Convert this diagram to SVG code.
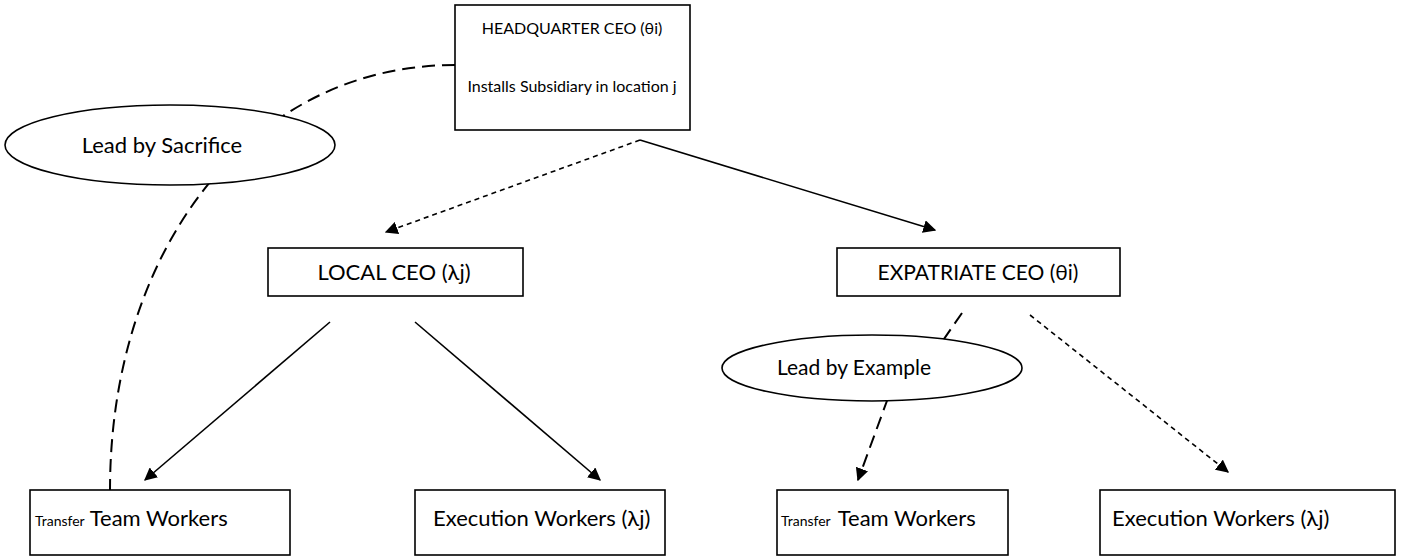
<svg xmlns="http://www.w3.org/2000/svg" width="1405" height="560" viewBox="0 0 1405 560">
  <style>
    .box { fill: #ffffff; stroke: #000000; stroke-width: 1.6; }
    .oval { fill: #ffffff; stroke: #000000; stroke-width: 1.6; }
    .lbl { font-family: Lato, "Open Sans", "Liberation Sans", sans-serif; font-size: 16px; fill: #000000; }
    .mid { text-anchor: middle; dominant-baseline: central; }
    .ceo { font-size: 22px; }
    .oval-lbl { font-size: 21px; }
    .small { font-size: 14px; }
    .big { font-size: 22px; }
    .solid { fill: none; stroke: #000000; stroke-width: 1.6; }
    .short { fill: none; stroke: #000000; stroke-width: 1.6; stroke-dasharray: 5 4; }
    .long { fill: none; stroke: #000000; stroke-width: 2; stroke-dasharray: 13 7; }
  </style>
  <defs>
    <marker id="arrow" viewBox="0 0 10 10" refX="9" refY="5" markerWidth="13" markerHeight="13" markerUnits="userSpaceOnUse" orient="auto">
      <path d="M0,0 L10,5 L0,10 z" fill="#000000"/>
    </marker>
  </defs>
  <rect width="1405" height="560" fill="#ffffff"/>

  <!-- connectors -->
  <g id="connectors">
    <!-- sacrifice arc: headquarter to transfer team (left) -->
    <path class="long" d="M455,65 C250,65 110,250 110,490"/>
    <path class="short" d="M640,140 L386,232" marker-end="url(#arrow)"/>
    <path class="solid" d="M640,140 L935,230" marker-end="url(#arrow)"/>
    <path class="solid" d="M330,322 L145,480" marker-end="url(#arrow)"/>
    <path class="solid" d="M415,322 L600,480" marker-end="url(#arrow)"/>
    <!-- example link: expatriate to transfer team (right) -->
    <path class="long" d="M962,313 L935,352 M888,398 L858,480" marker-end="url(#arrow)"/>
    <path class="short" d="M1030,315 L1228,472" marker-end="url(#arrow)"/>
  </g>

  <g id="hq">
    <rect class="box" x="455" y="5" width="235" height="125"/>
    <text class="lbl mid" x="572" y="27">HEADQUARTER CEO (θi)</text>
    <text class="lbl mid" x="572" y="85">Installs Subsidiary in location j</text>
  </g>

  <g id="sacrifice">
    <ellipse class="oval" cx="170" cy="145" rx="165" ry="40"/>
    <text class="lbl mid" x="162" y="144" style="font-size:22px">Lead by Sacrifice</text>
  </g>

  <g id="local-ceo">
    <rect class="box" x="268" y="248" width="255" height="48"/>
    <text class="lbl mid ceo" x="394" y="271">LOCAL CEO (λj)</text>
  </g>

  <g id="expat-ceo">
    <rect class="box" x="837" y="248" width="283" height="48"/>
    <text class="lbl mid ceo" x="978" y="271" style="font-size:21px">EXPATRIATE CEO (θi)</text>
  </g>

  <g id="example">
    <ellipse class="oval" cx="872" cy="368" rx="150" ry="33"/>
    <text class="lbl mid oval-lbl" x="854" y="366">Lead by Example</text>
  </g>

  <g id="transfer-local">
    <rect class="box" x="30" y="490" width="260" height="65"/>
    <text class="lbl" x="35" y="526"><tspan class="small">Transfer</tspan><tspan class="big" dx="5">Team Workers</tspan></text>
  </g>

  <g id="execution-local">
    <rect class="box" x="415" y="490" width="250" height="65"/>
    <text class="lbl big" x="433" y="526">Execution Workers (λj)</text>
  </g>

  <g id="transfer-expat">
    <rect class="box" x="777" y="490" width="231" height="65"/>
    <text class="lbl" x="781" y="526"><tspan class="small">Transfer</tspan><tspan class="big" dx="7">Team Workers</tspan></text>
  </g>

  <g id="execution-expat">
    <rect class="box" x="1100" y="490" width="295" height="65"/>
    <text class="lbl big" x="1112" y="526">Execution Workers (λj)</text>
  </g>
</svg>
